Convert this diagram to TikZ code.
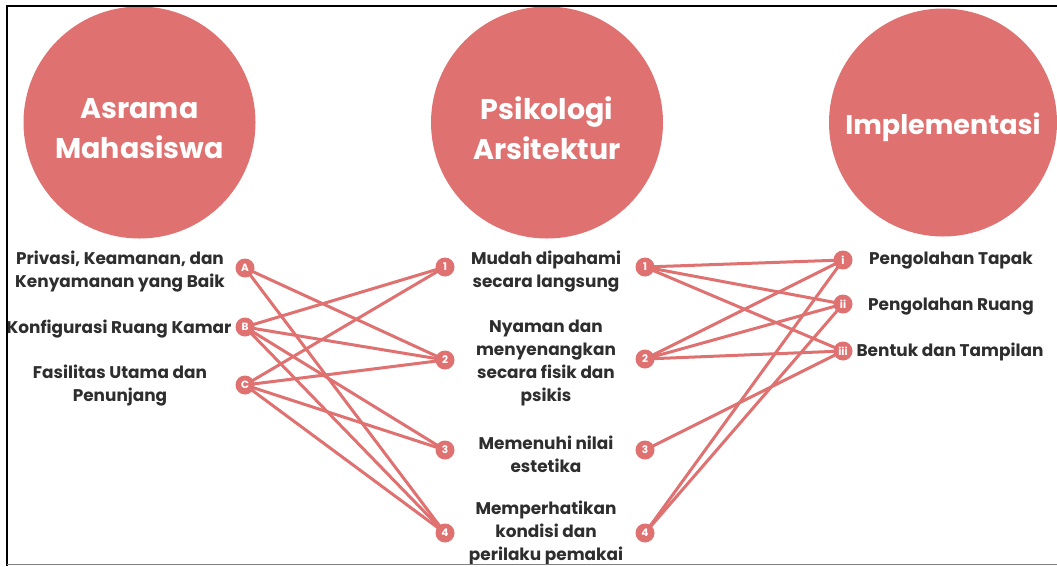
\documentclass[tikz,border=0pt]{standalone}
\usepackage{fontspec}
\setmainfont{Poppins}
\definecolor{salmon}{HTML}{E07171}
\definecolor{ink}{HTML}{2E2E2E}
\begin{document}
\begin{tikzpicture}[x=1pt,y=-1pt,
  big/.style={circle,fill=salmon,minimum size=232pt,inner sep=0pt},
  bigtext/.style={text=white,font=\bfseries\fontsize{28.5}{40}\selectfont,align=center,inner sep=0pt},
  dot/.style={circle,fill=salmon,minimum size=19pt,inner sep=0pt,text=white,font=\bfseries\fontsize{10.5}{10.5}\selectfont},
  lbl/.style={text=ink,font=\bfseries\fontsize{16.9}{23}\selectfont,align=center,inner sep=0pt},
  link/.style={salmon,line width=3pt}]
\useasboundingbox (0,0) rectangle (1057,566);
\fill[white] (0,0) rectangle (1057,566);
% circles
\node[big] (c1) at (139.5,122.5) {};
\node[big] (c2) at (547,122.5) {};
\node[big,minimum size=228pt] (c3) at (943,122.5) {};
\node[bigtext] (h1) at ([yshift=-6pt]c1.center) {Asrama\\Mahasiswa};
\node[bigtext] (h2) at ([yshift=-6pt]c2.center) {Psikologi\\Arsitektur};
\node[bigtext,font=\bfseries\fontsize{27}{40}\selectfont] (h3) at ([yshift=-5pt]c3.center) {Implementasi};
% dot positions
\coordinate (A) at (245,268);
\coordinate (B) at (245,327);
\coordinate (C) at (245,385);
\coordinate (L1) at (445,267);
\coordinate (L2) at (445,360);
\coordinate (L3) at (445,450);
\coordinate (L4) at (445,533);
\coordinate (R1) at (645,267);
\coordinate (R2) at (645,359);
\coordinate (R3) at (645,450);
\coordinate (R4) at (645,533);
\coordinate (Ri) at (843,260);
\coordinate (Rii) at (843,304);
\coordinate (Riii) at (843,351);
% links
\foreach \a/\b in {A/L2,A/L4,B/L1,B/L2,B/L3,B/L4,C/L1,C/L2,C/L3,C/L4,
  R1/Ri,R1/Rii,R1/Riii,R2/Ri,R2/Rii,R2/Riii,R3/Riii,R4/Ri,R4/Rii}
  \draw[link] (\a) -- (\b);
% dots on top
\foreach \n/\t in {A/A,B/B,C/C,L1/1,L2/2,L3/3,L4/4,R1/1,R2/2,R3/3,R4/4,Ri/i,Rii/ii,Riii/iii}
  \node[dot] (d\n) at (\n) {\t};
% labels
\node[lbl] (tA) at (120,272) {Privasi, Keamanan, dan\\Kenyamanan yang Baik};
\node[lbl] (tB) at (119,329) {Konfigurasi Ruang Kamar};
\node[lbl] (tC) at (120,386) {Fasilitas Utama dan\\Penunjang};
\node[lbl] (t1) at (546,272) {Mudah dipahami\\secara langsung};
\node[lbl] (t2) at (546,363) {Nyaman dan\\menyenangkan\\secara fisik dan\\psikis};
\node[lbl] (t3) at (546,454) {Memenuhi nilai\\estetika};
\node[lbl] (t4) at (546,532.5) {Memperhatikan\\kondisi dan\\perilaku pemakai};
\node[lbl] (ti) at (951,261) {Pengolahan Tapak};
\node[lbl] (tii) at (951,307) {Pengolahan Ruang};
\node[lbl] (tiii) at (950,352) {Bentuk dan Tampilan};
% frame
\draw[black,line width=2pt] (1057,6) -- (7,6) -- (7,566);
\draw[gray,line width=1.5pt] (7,564.5) -- (1057,564.5);
\end{tikzpicture}
\end{document}
